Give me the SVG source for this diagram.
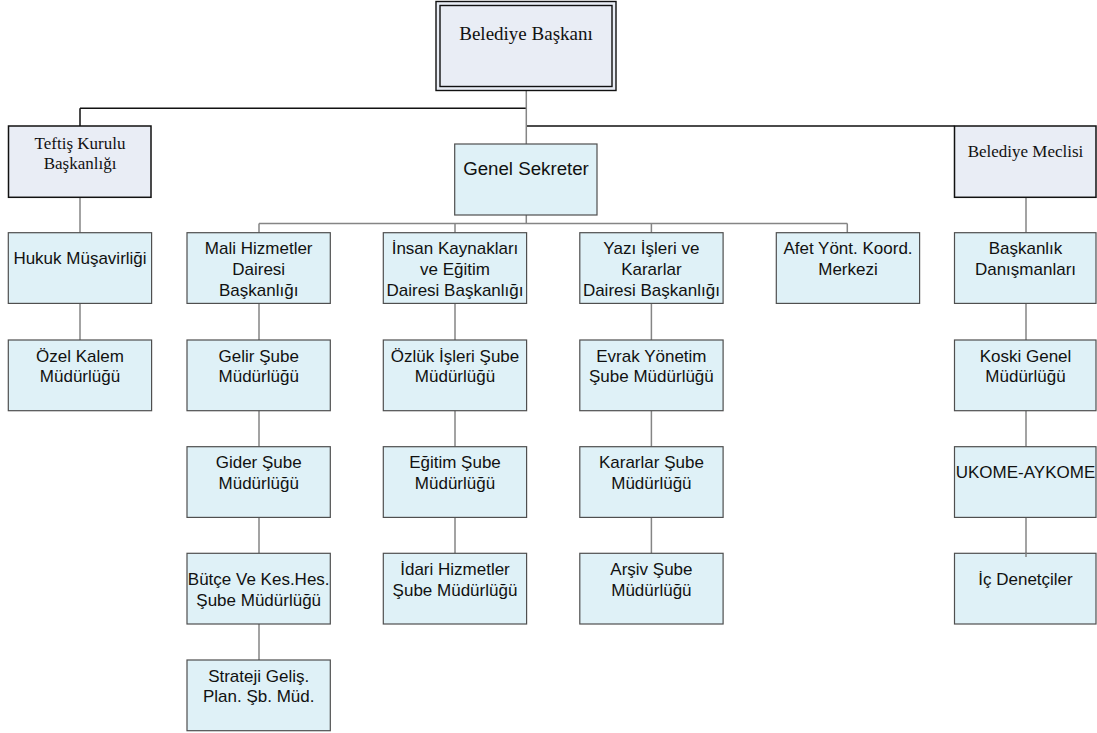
<svg xmlns="http://www.w3.org/2000/svg" width="1097" height="733" viewBox="0 0 1097 733">
<style>
.bx{fill:#dff1f7;stroke:#4f4f4f;stroke-width:1.2}
.sb{fill:#e9edf5;stroke:#111;stroke-width:1.5}
.t{font-family:"Liberation Sans",Arial,sans-serif;font-size:17px;fill:#111;text-anchor:middle}
.s{font-family:"Liberation Serif","Times New Roman",serif;font-size:17px;fill:#111;text-anchor:middle}
.k{stroke:#111;stroke-width:1.5;fill:none}
.g{stroke:#858585;stroke-width:1.5;fill:none}
</style>
<rect width="1097" height="733" fill="#fff"/>
<g id="connectors">
<path class="k" d="M80 108.3H526.3M80 108.3V126M526.3 126H954.5"/>
<path class="g" d="M526.3 90.5V144M526.3 215V223.5M259 223.5H847.3M259 223.5V232.7M455 223.5V232.7M651.4 223.5V232.7M847.3 223.5V232.7"/>
<path class="g" d="M80 197.3V232.7M80 303.4V340"/>
<path class="g" d="M259 303.4V340M259 410.7V446.7M259 517.4V553.3M259 624V660"/>
<path class="g" d="M455 303.4V340M455 410.7V446.7M455 517.4V553.3"/>
<path class="g" d="M651.4 303.4V340M651.4 410.7V446.7M651.4 517.4V553.3"/>
<path class="g" d="M1026 197.3V232.7M1026 303.4V340M1026 410.7V446.7M1026 517.4V553.3"/>
</g>
<g id="baskan">
<rect x="436" y="1.5" width="180" height="89" fill="#e9edf5" stroke="#111" stroke-width="1.4"/>
<rect x="440" y="5.5" width="172" height="81" fill="none" stroke="#111" stroke-width="1.4"/>
<text class="s" x="526" y="39.5" style="font-size:19px">Belediye Başkanı</text>
</g>
<g id="teftis">
<rect class="sb" x="8.5" y="126" width="142.5" height="71.3"/>
<text class="s" x="80" y="148.8">Teftiş Kurulu</text>
<text class="s" x="80" y="168.8">Başkanlığı</text>
</g>
<g id="meclis">
<rect class="sb" x="954.5" y="126" width="141.5" height="71.3"/>
<text class="s" x="1025.5" y="157.3">Belediye Meclisi</text>
</g>
<g id="genel">
<rect class="bx" x="454.7" y="144" width="142.3" height="71"/>
<text class="t" x="526" y="175" style="font-size:18.7px">Genel Sekreter</text>
</g>
<g id="hukuk">
<rect class="bx" x="8.3" y="232.7" width="143.3" height="70.7"/>
<text class="t" x="80" y="264">Hukuk Müşavirliği</text>
</g>
<g id="ozel">
<rect class="bx" x="8.3" y="340" width="143.3" height="70.7"/>
<text class="t" x="80" y="361.6">Özel Kalem</text>
<text class="t" x="80" y="382.3">Müdürlüğü</text>
</g>
<g id="mali">
<rect class="bx" x="187" y="232.7" width="143.3" height="70.7"/>
<text class="t" x="258.7" y="254.3">Mali Hizmetler</text>
<text class="t" x="258.7" y="275">Dairesi</text>
<text class="t" x="258.7" y="295.7">Başkanlığı</text>
</g>
<g id="gelir">
<rect class="bx" x="187" y="340" width="143.3" height="70.7"/>
<text class="t" x="258.7" y="361.6">Gelir Şube</text>
<text class="t" x="258.7" y="382.3">Müdürlüğü</text>
</g>
<g id="gider">
<rect class="bx" x="187" y="446.7" width="143.3" height="70.7"/>
<text class="t" x="258.7" y="468.3">Gider Şube</text>
<text class="t" x="258.7" y="489">Müdürlüğü</text>
</g>
<g id="butce">
<rect class="bx" x="187" y="553.3" width="143.3" height="70.7"/>
<text class="t" x="258.7" y="585">Bütçe Ve Kes.Hes.</text>
<text class="t" x="258.7" y="605.7">Şube Müdürlüğü</text>
</g>
<g id="strateji">
<rect class="bx" x="187" y="660" width="143.3" height="70.7"/>
<text class="t" x="258.7" y="681.6">Strateji Geliş.</text>
<text class="t" x="258.7" y="702.3">Plan. Şb. Müd.</text>
</g>
<g id="insan">
<rect class="bx" x="383.3" y="232.7" width="143.3" height="70.7"/>
<text class="t" x="455" y="254.3">İnsan Kaynakları</text>
<text class="t" x="455" y="275">ve Eğitim</text>
<text class="t" x="455" y="295.7">Dairesi Başkanlığı</text>
</g>
<g id="ozluk">
<rect class="bx" x="383.3" y="340" width="143.3" height="70.7"/>
<text class="t" x="455" y="361.6">Özlük İşleri Şube</text>
<text class="t" x="455" y="382.3">Müdürlüğü</text>
</g>
<g id="egitim">
<rect class="bx" x="383.3" y="446.7" width="143.3" height="70.7"/>
<text class="t" x="455" y="468.3">Eğitim Şube</text>
<text class="t" x="455" y="489">Müdürlüğü</text>
</g>
<g id="idari">
<rect class="bx" x="383.3" y="553.3" width="143.3" height="70.7"/>
<text class="t" x="455" y="574.9">İdari Hizmetler</text>
<text class="t" x="455" y="595.6">Şube Müdürlüğü</text>
</g>
<g id="yazi">
<rect class="bx" x="579.8" y="232.7" width="143.3" height="70.7"/>
<text class="t" x="651.4" y="254.3">Yazı İşleri ve</text>
<text class="t" x="651.4" y="275">Kararlar</text>
<text class="t" x="651.4" y="295.7">Dairesi Başkanlığı</text>
</g>
<g id="evrak">
<rect class="bx" x="579.8" y="340" width="143.3" height="70.7"/>
<text class="t" x="651.4" y="361.6">Evrak Yönetim</text>
<text class="t" x="651.4" y="382.3">Şube Müdürlüğü</text>
</g>
<g id="kararlar">
<rect class="bx" x="579.8" y="446.7" width="143.3" height="70.7"/>
<text class="t" x="651.4" y="468.3">Kararlar Şube</text>
<text class="t" x="651.4" y="489">Müdürlüğü</text>
</g>
<g id="arsiv">
<rect class="bx" x="579.8" y="553.3" width="143.3" height="70.7"/>
<text class="t" x="651.4" y="574.9">Arşiv Şube</text>
<text class="t" x="651.4" y="595.6">Müdürlüğü</text>
</g>
<g id="afet">
<rect class="bx" x="776.3" y="232.7" width="143.3" height="70.7"/>
<text class="t" x="848" y="254.3">Afet Yönt. Koord.</text>
<text class="t" x="848" y="275">Merkezi</text>
</g>
<g id="danisman">
<rect class="bx" x="954.5" y="232.7" width="141.5" height="70.7"/>
<text class="t" x="1025.5" y="254.3">Başkanlık</text>
<text class="t" x="1025.5" y="275">Danışmanları</text>
</g>
<g id="koski">
<rect class="bx" x="954.5" y="340" width="141.5" height="70.7"/>
<text class="t" x="1025.5" y="361.6">Koski Genel</text>
<text class="t" x="1025.5" y="382.3">Müdürlüğü</text>
</g>
<g id="ukome">
<rect class="bx" x="954.5" y="446.7" width="141.5" height="70.7"/>
<text class="t" x="1025.5" y="477.5">UKOME-AYKOME</text>
</g>
<g id="icdenetci">
<rect class="bx" x="954.5" y="553.3" width="141.5" height="70.7"/>
<path class="g" d="M1026 553.3V557"/>
<text class="t" x="1025.5" y="584.5">İç Denetçiler</text>
</g>
</svg>
